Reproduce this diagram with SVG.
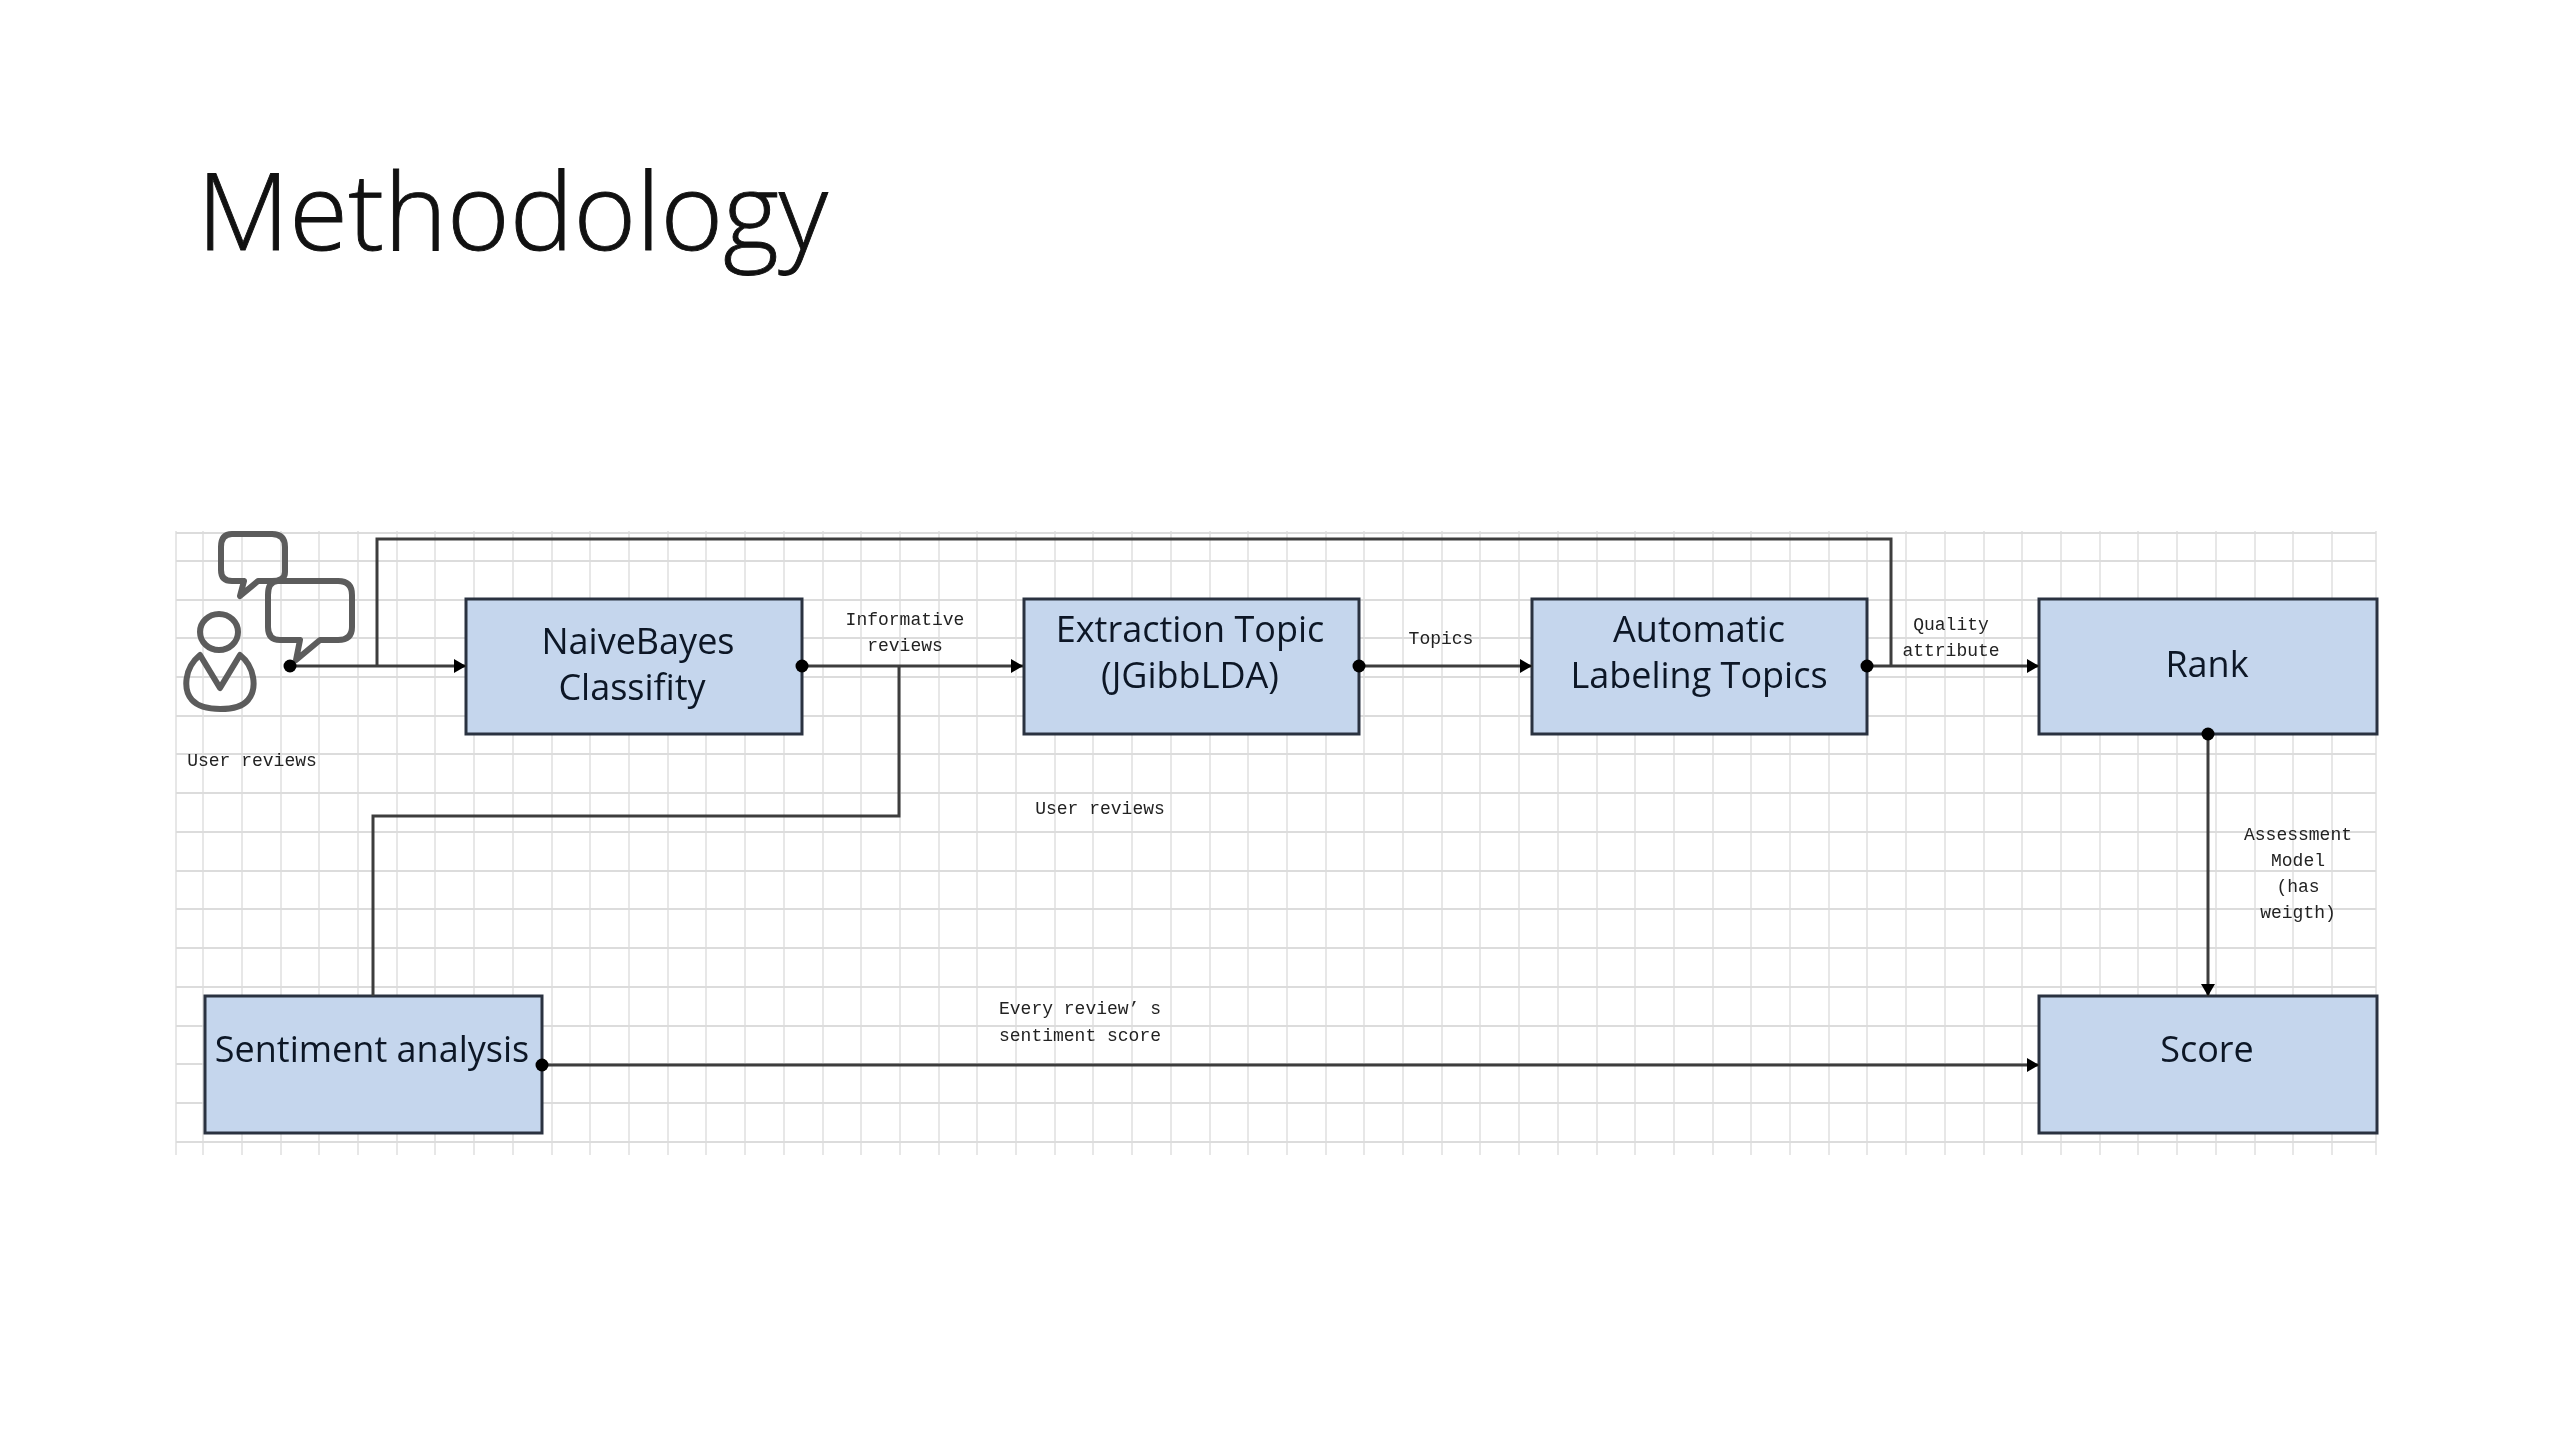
<svg xmlns="http://www.w3.org/2000/svg" width="2560" height="1440" viewBox="0 0 2560 1440">
<style>
.gv{stroke:#e2e2e2;stroke-width:1.6;fill:none}
.gh{stroke:#dcdcdc;stroke-width:2;fill:none}
.box{fill:#c5d6ed;stroke:#2a3240;stroke-width:3}
.t{font-family:"Open Sans","Noto Sans",sans-serif;font-size:36px;fill:#0c1826;text-anchor:middle}
.l{font-family:"Liberation Mono",monospace;font-size:18px;fill:#222;text-anchor:middle}
.c{fill:none;stroke:#3c3c3c;stroke-width:3}
.i{fill:none;stroke:#5c5c5c;stroke-width:6;stroke-linejoin:round}
</style>
<defs>
<marker id="arrow" markerUnits="userSpaceOnUse" markerWidth="13" markerHeight="16" refX="12" refY="8" orient="auto"><path d="M0 1L12 8L0 15Z" fill="#000"/></marker>
<marker id="dot" markerUnits="userSpaceOnUse" markerWidth="16" markerHeight="16" refX="8" refY="8"><circle cx="8" cy="8" r="6.5" fill="#000"/></marker>
<filter id="soft" x="-2%" y="-2%" width="104%" height="104%"><feGaussianBlur stdDeviation="0.6"/></filter>
</defs>
<rect width="2560" height="1440" fill="#fff"/>
<text x="197" y="250" font-family="Open Sans,Noto Sans,sans-serif" font-weight="300" font-size="107" fill="#111" stroke="#111" stroke-width="0.9">Methodology</text>
<g filter="url(#soft)">
<g id="grid"><path class="gv" d="M176 531V1155M203 531V1155M242 531V1155M281 531V1155M319 531V1155M358 531V1155M397 531V1155M435 531V1155M474 531V1155M513 531V1155M552 531V1155M590 531V1155M629 531V1155M668 531V1155M706 531V1155M745 531V1155M784 531V1155M823 531V1155M861 531V1155M900 531V1155M939 531V1155M977 531V1155M1016 531V1155M1055 531V1155M1093 531V1155M1132 531V1155M1171 531V1155M1210 531V1155M1248 531V1155M1287 531V1155M1326 531V1155M1364 531V1155M1403 531V1155M1442 531V1155M1480 531V1155M1519 531V1155M1558 531V1155M1597 531V1155M1635 531V1155M1674 531V1155M1713 531V1155M1751 531V1155M1790 531V1155M1829 531V1155M1867 531V1155M1906 531V1155M1945 531V1155M1984 531V1155M2022 531V1155M2061 531V1155M2100 531V1155M2138 531V1155M2177 531V1155M2216 531V1155M2255 531V1155M2293 531V1155M2332 531V1155M2376 531V1155"/>
<path class="gh" d="M176 533H2376M176 561H2376M176 600H2376M176 638H2376M176 677H2376M176 716H2376M176 754H2376M176 793H2376M176 832H2376M176 871H2376M176 909H2376M176 948H2376M176 987H2376M176 1026H2376M176 1064H2376M176 1103H2376M176 1142H2376"/></g>
<g id="user-icon">
<ellipse class="i" cx="219" cy="632" rx="19" ry="18"/>
<path class="i" d="M200 655C184 668 183 690 192 700C203 712 238 712 248 700C258 688 254 666 240 655L220 688Z"/>
<path class="i" d="M232 534H272Q285 534 285 547V572Q285 581 272 581H258L240 596L244 581H232Q221 581 221 570V547Q221 534 232 534Z"/>
<path class="i" d="M278 581H338Q352 581 352 595V627Q352 640 338 640H320L296 660L300 640H280Q268 640 268 627V595Q268 581 278 581Z"/>
</g>
<text class="l" x="252" y="766">User reviews</text>
<g id="naive"><rect class="box" x="466" y="599" width="336" height="135"/><text class="t" x="638" y="654">NaiveBayes</text><text class="t" x="632" y="700">Classifity</text></g>
<g id="extraction"><rect class="box" x="1024" y="599" width="335" height="135"/><text class="t" x="1190" y="642">Extraction Topic</text><text class="t" x="1190" y="688">(JGibbLDA)</text></g>
<g id="labeling"><rect class="box" x="1532" y="599" width="335" height="135"/><text class="t" x="1699" y="642">Automatic</text><text class="t" x="1699" y="688">Labeling Topics</text></g>
<g id="rank"><rect class="box" x="2039" y="599" width="338" height="135"/><text class="t" x="2207" y="677">Rank</text></g>
<g id="sentiment"><rect class="box" x="205" y="996" width="337" height="137"/><text class="t" x="372" y="1062">Sentiment analysis</text></g>
<g id="score"><rect class="box" x="2039" y="996" width="338" height="137"/><text class="t" x="2207" y="1062">Score</text></g>
<g id="connectors">
<path class="c" d="M290 666H466" marker-start="url(#dot)" marker-end="url(#arrow)"/>
<path class="c" d="M377 666V539H1891V666"/>
<path class="c" d="M802 666H1023" marker-start="url(#dot)" marker-end="url(#arrow)"/>
<path class="c" d="M899 666V816H373V996"/>
<path class="c" d="M1359 666H1532" marker-start="url(#dot)" marker-end="url(#arrow)"/>
<path class="c" d="M1867 666H2039" marker-start="url(#dot)" marker-end="url(#arrow)"/>
<path class="c" d="M2208 734V996" marker-start="url(#dot)" marker-end="url(#arrow)"/>
<path class="c" d="M542 1065H2039" marker-start="url(#dot)" marker-end="url(#arrow)"/>
</g>
<g id="labels">
<text class="l" x="905" y="625">Informative</text><text class="l" x="905" y="651">reviews</text>
<text class="l" x="1441" y="644">Topics</text>
<text class="l" x="1951" y="630">Quality</text><text class="l" x="1951" y="656">attribute</text>
<text class="l" x="1100" y="814">User reviews</text>
<text class="l" x="1080" y="1014">Every review’ s</text><text class="l" x="1080" y="1041">sentiment score</text>
<text class="l" x="2298" y="840">Assessment</text><text class="l" x="2298" y="866">Model</text><text class="l" x="2298" y="892">(has</text><text class="l" x="2298" y="918">weigth)</text>
</g>
</g>
</svg>
